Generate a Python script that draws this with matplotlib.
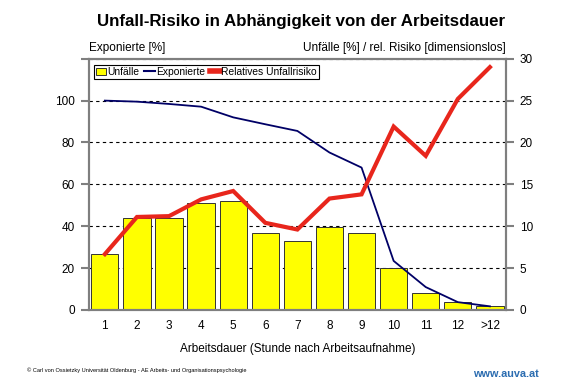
import numpy as np
import matplotlib
matplotlib.use("Agg")
import matplotlib.pyplot as plt
from matplotlib.patches import Patch
from matplotlib.lines import Line2D

plt.rcParams["font.family"] = ["Liberation Sans", "DejaVu Sans"]

# data
hours = ["1", "2", "3", "4", "5", "6", "7", "8", "9", "10", "11", "12", ">12"]
accidents = [6.65, 11.0, 11.0, 12.8, 13.05, 9.2, 8.2, 9.85, 9.23, 5.06, 2.0, 0.92, 0.45]
exposed = [100, 99.5, 98.4, 97.1, 92.0, 88.7, 85.5, 75.2, 68.0, 23.4, 10.9, 3.7, 1.7]
risk = [6.66, 11.1, 11.2, 13.2, 14.2, 10.4, 9.6, 13.3, 13.8, 21.9, 18.4, 25.2, 29.0]

GRAY = "#7f7f7f"
x = np.arange(len(hours))

fig = plt.figure(figsize=(5.73, 3.84), dpi=100)
ax = fig.add_axes([0.155, 0.193, 0.728, 0.654])   # right scale: Unfaelle / Risiko
ax2 = ax.twinx()                                    # left scale: Exponierte
ax.yaxis.tick_right()
ax2.yaxis.tick_left()

ax.set_axisbelow(True)
ax.yaxis.grid(True, linestyle=(0, (3, 3)), color="black", linewidth=0.8)
ax.bar(x, accidents, width=0.85, color="#ffff00", edgecolor="#333333",
       linewidth=0.7, zorder=2)

ax2.plot(x, exposed, color="#000066", linewidth=1.3, zorder=3)
ax2.plot(x, risk, color="#e8261c", linewidth=3.0, solid_joinstyle="miter",
         transform=ax.transData, zorder=4)

ax.set_xlim(-0.5, len(hours) - 0.5)
ax.set_ylim(0, 30)
ax2.set_ylim(0, 120)
ax.set_yticks([0, 5, 10, 15, 20, 25, 30])
ax2.set_yticks([0, 20, 40, 60, 80, 100, 120])
ax2.set_yticklabels(["0", "20", "40", "60", "80", "100", ""])
ax.set_xticks(x)
ax.set_xticklabels(hours)

for a in (ax, ax2):
    for s in a.spines.values():
        s.set_color(GRAY)
        s.set_linewidth(1.5)
    a.tick_params(axis="y", length=6, width=1.5, color=GRAY, labelsize=8.5, pad=4)
ax.tick_params(axis="x", length=0, labelsize=8.5, pad=7)

ax.set_xlabel("Arbeitsdauer (Stunde nach Arbeitsaufnahme)", fontsize=8.5, labelpad=8)
ax.text(0.0, 1.02, "Exponierte [%]", transform=ax.transAxes, fontsize=8.5,
        ha="left", va="bottom")
ax.text(1.0, 1.02, "Unfälle [%] / rel. Risiko [dimensionslos]", transform=ax.transAxes,
        fontsize=8.5, ha="right", va="bottom")

handles = [
    Patch(facecolor="#ffff00", edgecolor="#333333", linewidth=0.7),
    Line2D([], [], color="#000066", linewidth=1.5),
    Line2D([], [], color="#e8261c", linewidth=4),
]
leg = ax2.legend(handles, ["Unfälle", "Exponierte", "Relatives Unfallrisiko"],
                 loc="upper left", bbox_to_anchor=(0.012, 0.975), ncol=3,
                 fontsize=7.4, frameon=True, fancybox=False, framealpha=1,
                 borderpad=0.2, handlelength=1.0, handleheight=0.7,
                 handletextpad=0.1, columnspacing=0.5, borderaxespad=0)
leg.get_frame().set_edgecolor("black")
leg.get_frame().set_linewidth(0.8)

fig.text(0.525, 0.945, "Unfall-Risiko in Abhängigkeit von der Arbeitsdauer",
         fontsize=12.2, fontweight="bold", ha="center", va="center")
fig.text(0.047, 0.035, "© Carl von Ossietzky Universität Oldenburg - AE Arbeits- und Organisationspsychologie",
         fontsize=4.1, ha="left", va="center")
fig.text(0.826, 0.025, "www.auva.at", fontsize=7.8, fontweight="bold",
         color="#2b6cb0", ha="left", va="center")

fig.savefig("out.png", dpi=100)
